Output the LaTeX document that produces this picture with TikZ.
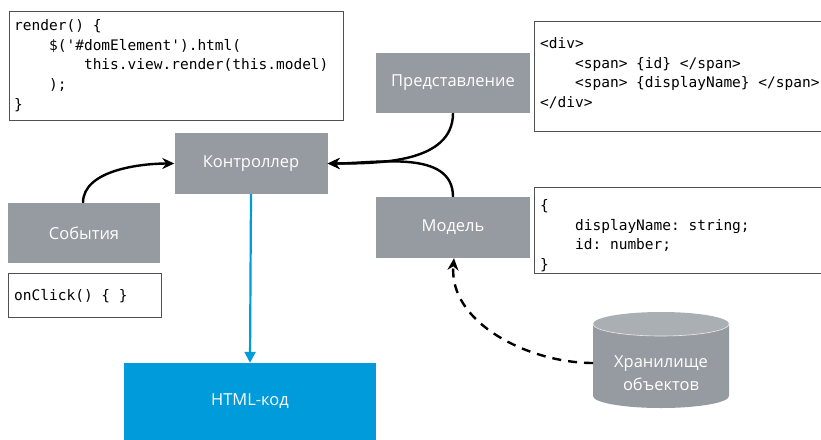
\documentclass[tikz,border=0pt]{standalone}
\usepackage{fontspec}
\setmainfont{Open Sans}
\setmonofont{DejaVu Sans Mono}
\usetikzlibrary{arrows.meta}
\definecolor{boxgray}{RGB}{149,155,160}
\definecolor{htmlblue}{RGB}{0,155,218}
\definecolor{linegray}{RGB}{80,80,80}
\newcommand\ind{\phantom{0000}}
\begin{document}
\begin{tikzpicture}[x=1pt,y=-1pt,
  gbox/.style={fill=boxgray,draw=none,text=white,inner sep=0pt,font=\fontsize{16.5}{19}\selectfont},
  codebox/.style={draw=linegray,line width=0.8pt,fill=white,inner sep=0pt},
  codetext/.style={anchor=north west,inner sep=0pt,align=left,font=\ttfamily\fontsize{14.5}{19.8}\selectfont},
  arr/.style={line width=2.4pt,-{Stealth[length=12pt,width=11pt]}},
]
\useasboundingbox (0,0) rectangle (821,439);

% code boxes
\node[codebox,minimum width=334pt,minimum height=109pt] (c1) at (176,65.5) {};
\node[codetext] (t1) at (14,19) {render() \{\\\ind\$('\#domElement').html(\\\ind\ind this.view.render(this.model)\\\ind);\\\}};

\node[codebox,minimum width=290pt,minimum height=110pt] (c2) at (679,76) {};
\node[codetext] (t2) at (540,37) {<div>\\\ind<span> \{id\} </span>\\\ind<span> \{displayName\} </span>\\</div>};

\node[codebox,minimum width=290pt,minimum height=86pt] (c3) at (679,230) {};
\node[codetext] (t3) at (540,199) {\{\\\ind displayName: string;\\\ind id: number;\\\}};

\node[codebox,minimum width=153pt,minimum height=44pt] (c4) at (84.5,295) {};
\node[codetext,anchor=west] (t4) at (14,296) {onClick() \{ \}};

% gray nodes
\node[gbox,minimum width=154pt,minimum height=60pt] (view) at (453,83) {Представление};
\node[gbox,minimum width=153pt,minimum height=61pt] (ctl) at (251,163.5) {Контроллер};
\node[gbox,minimum width=152pt,minimum height=60pt] (ev) at (84,233) {События};
\node[gbox,minimum width=154pt,minimum height=61pt] (model) at (453,227.5) {Модель};
\node[fill=htmlblue,text=white,inner sep=0pt,minimum width=252pt,minimum height=77pt,font=\fontsize{16.5}{19}\selectfont] (html) at (250,401.5) {HTML-код};

% cylinder
\fill[boxgray] (593,324) -- (593,396) arc[start angle=180,end angle=0,x radius=68,y radius=12] -- (729,324) -- cycle;
\fill[boxgray!80!white] (661,324) ellipse[x radius=68,y radius=12];
\draw[white!80!boxgray,line width=0.6pt] (593,324) arc[start angle=180,end angle=0,x radius=68,y radius=12];
\node[text=white,align=center,inner sep=0pt,font=\fontsize{16.5}{23}\selectfont] (store) at (661,373) {Хранилище\\объектов};
\coordinate (storew) at (593,363);

% connectors
\draw[arr] ([xshift=-1pt]ev.north) to[out=90,in=180,looseness=0.85] (ctl.west);
\draw[arr] (view.south) to[out=-90,in=0,looseness=0.95] (ctl.east);
\draw[arr] (model.north) to[out=90,in=0,looseness=0.95] (ctl.east);
\draw[htmlblue,line width=2.2pt,-{Triangle[length=11pt,width=11pt]}] (ctl.south) -- (html.north);
\draw[line width=2.4pt,dash pattern=on 9pt off 7pt,-{Stealth[length=12pt,width=11pt]}] (storew) to[out=180,in=-95,looseness=0.95] ([xshift=1pt]model.south);
\end{tikzpicture}
\end{document}
